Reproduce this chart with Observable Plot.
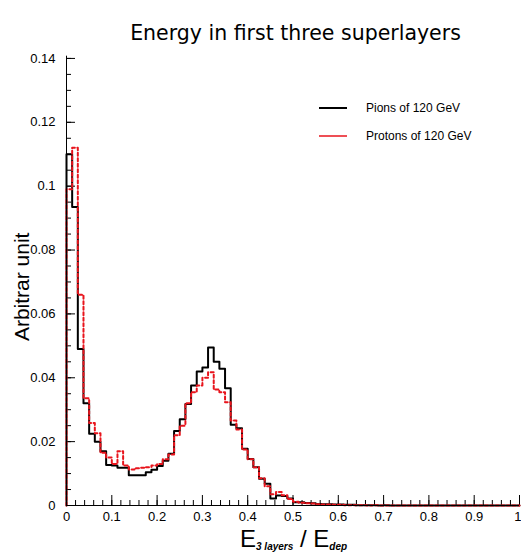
<!DOCTYPE html>
<html><head><meta charset="utf-8">
<script src="https://cdn.jsdelivr.net/npm/d3@7"></script>
<script src="https://cdn.jsdelivr.net/npm/@observablehq/plot@0.6"></script>
<style>
body{margin:0;background:#fff;}
</style></head><body>
<div id="chart"></div>
<script>
// Histogram: 80 bins of width 0.0125 from 0 to 1
const binWidth = 0.0125;
const pions = [
  0.110, 0.0935, 0.049, 0.032, 0.0225, 0.020, 0.017, 0.0127, 0.0125, 0.0118,
  0.0118, 0.0095, 0.0095, 0.0095, 0.0104, 0.0112, 0.0124, 0.014, 0.0162, 0.0233,
  0.027, 0.0318, 0.0376, 0.042, 0.0432, 0.0495, 0.045, 0.0428, 0.0367, 0.0253,
  0.0242, 0.0178, 0.0146, 0.012, 0.0084, 0.0068, 0.0022, 0.0031, 0.003, 0.0022,
  0.0010, 0.0010, 0.0008, 0.0007, 0.0005, 0.0004, 0.0004, 0.0003, 0.0003, 0.0002,
  0.0002, 0.0001, 0.0001, 0.0001, 0.0001, 0, 0.0001, 0, 0, 0,
  0, 0, 0, 0, 0, 0, 0, 0, 0, 0,
  0, 0, 0, 0, 0, 0, 0, 0, 0, 0
];
const protons = [
  0.099, 0.112, 0.066, 0.0336, 0.0258, 0.0226, 0.0165, 0.015, 0.013, 0.017,
  0.0125, 0.0113, 0.0117, 0.0118, 0.012, 0.0125, 0.013, 0.0145, 0.016, 0.022,
  0.025, 0.032, 0.0355, 0.0376, 0.040, 0.0417, 0.0363, 0.0355, 0.0323, 0.0266,
  0.0238, 0.0175, 0.0145, 0.012, 0.0085, 0.006, 0.0035, 0.0042, 0.0032, 0.002,
  0.0012, 0.0009, 0.0007, 0.0006, 0.0004, 0.0003, 0.0003, 0.0002, 0.0002, 0.0001,
  0.0001, 0.0001, 0.0001, 0, 0.0001, 0, 0, 0, 0, 0,
  0, 0, 0, 0, 0, 0, 0, 0, 0, 0,
  0, 0, 0, 0, 0, 0, 0, 0, 0, 0
];
const seriesNames = ["Pions of 120 GeV", "Protons of 120 GeV"];
const yTickLabels = [0, 0.02, 0.04, 0.06, 0.08, 0.1, 0.12, 0.14];
const xTickLabels = [0, 0.1, 0.2, 0.3, 0.4, 0.5, 0.6, 0.7, 0.8, 0.9];
const xLastLabel = [1];
const titleText = "Energy in first three superlayers";
const yTitle = "Arbitrar unit";

function stepData(vals) {
  const pts = [{x: 0, y: 0}];
  vals.forEach((v, i) => pts.push({x: i * binWidth, y: v}));
  pts.push({x: vals.length * binWidth, y: vals[vals.length - 1]});
  pts.push({x: vals.length * binWidth, y: 0});
  return pts;
}

const W = 521, H = 554;
const mL = 66, mR = 2, mT = 55.7, mB = 49;
const frameW = W - mL - mR, frameH = H - mT - mB;

const yMajor = d3.range(0, 0.1401, 0.02);
const yMinor = d3.range(0, 0.1401, 0.005);
const xMajor = d3.range(0, 1.0001, 0.1);
const xMinor = d3.range(0, 1.0001, 0.02);

const svg = Plot.plot({
  width: W, height: H,
  marginLeft: mL, marginRight: mR, marginTop: mT, marginBottom: mB,
  style: {fontFamily: "'Liberation Sans', Arial, sans-serif", fontSize: "13px", background: "#fff", color: "#000"},
  x: {domain: [0, 1]},
  y: {domain: [0, 0.1407]},
  marks: [
    Plot.axisY({ticks: yTickLabels, tickSize: 0, tickPadding: 11, label: null, tickFormat: d => String(+d.toFixed(2)), fontSize: 13}),
    Plot.axisX({ticks: xTickLabels, tickSize: 0, tickPadding: 6, label: null, tickFormat: d => String(+d.toFixed(1)), fontSize: 13}),
    Plot.text(xLastLabel, {x: d => d, frameAnchor: "bottom", lineAnchor: "top", textAnchor: "end", dx: 2, dy: 6, fontSize: 13}),
    Plot.tickY(yMinor, {y: d => d, insetRight: frameW - 5, stroke: "#000", strokeWidth: 1}),
    Plot.tickY(yMajor, {y: d => d, insetRight: frameW - 9, stroke: "#000", strokeWidth: 1}),
    Plot.tickX(xMinor, {x: d => d, insetTop: frameH - 5, stroke: "#000", strokeWidth: 1}),
    Plot.tickX(xMajor, {x: d => d, insetTop: frameH - 10, stroke: "#000", strokeWidth: 1}),
    Plot.line(stepData(pions), {x: "x", y: "y", curve: "step-after", stroke: "#000", strokeWidth: 2}),
    Plot.line(stepData(protons), {x: "x", y: "y", curve: "step-after", stroke: "#e8141c", strokeWidth: 2, strokeDasharray: "3,2.5"}),
    Plot.ruleX([0], {stroke: "#000", strokeWidth: 1}),
    Plot.ruleY([0], {stroke: "#000", strokeWidth: 1}),
    Plot.text([titleText], {frameAnchor: "top", dy: -22.5, dx: 2.5, lineAnchor: "middle", fontSize: 20.5, fontFamily: "'DejaVu Sans', sans-serif"}),
    Plot.text([yTitle], {frameAnchor: "left", dx: -44, dy: 6, rotate: -90, textAnchor: "middle", lineAnchor: "middle", fontSize: 21})
  ]
});

const s = d3.select(svg);
// x axis title with subscripts
const xt = s.append("text").attr("x", 240).attr("y", 547).attr("text-anchor", "start")
  .attr("font-family", "'Liberation Sans', Arial, sans-serif").attr("fill", "#000");
xt.append("tspan").attr("font-size", 24).text("E");
xt.append("tspan").attr("font-size", 10).attr("font-weight", "bold").attr("font-style", "italic").attr("dy", 3).text("3 layers");
xt.append("tspan").attr("font-size", 24).attr("dy", -3).text(" / E");
xt.append("tspan").attr("font-size", 10).attr("font-weight", "bold").attr("font-style", "italic").attr("dy", 3).text("dep");

// legend
const leg = s.append("g").attr("font-family", "'Liberation Sans', Arial, sans-serif").attr("font-size", 12).attr("text-anchor", "start");
const legColors = ["#000", "#e8141c"];
seriesNames.forEach((name, i) => {
  const y = 108 + i * 28;
  leg.append("line").attr("x1", 319).attr("x2", 347).attr("y1", y).attr("y2", y)
    .attr("stroke", legColors[i]).attr("stroke-width", i === 0 ? 2 : 1.5);
  leg.append("text").attr("x", 366).attr("y", y).attr("dy", "0.35em").attr("fill", "#000").text(name);
});

document.getElementById("chart").appendChild(svg);
</script>
</body></html>
